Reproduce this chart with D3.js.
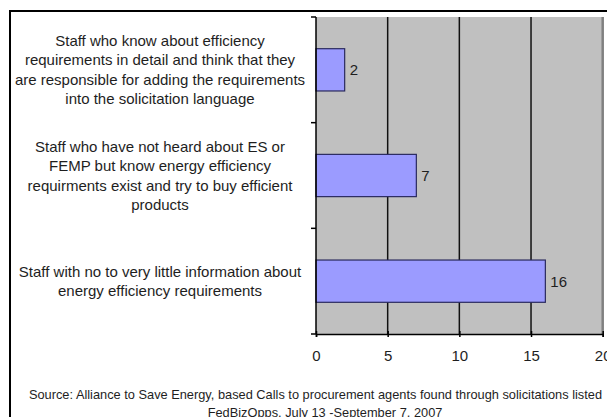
<html>
<head>
<meta charset="UTF-8">
<script src="https://d3js.org/d3.v7.min.js"></script>
<style>
  body { margin: 0; background: #fff; }
  text { font-family: "Liberation Sans", Arial, sans-serif; fill: #1e1e1e; }
</style>
</head>
<body>
<svg id="chart" width="607" height="417"></svg>
<script>
// category labels, one entry per bar (already split in lines as in the picture)
const categories = [
  ["Staff who know about efficiency", "requirements in detail and think that they", "are responsible for adding the requirements", "into the solicitation language"],
  ["Staff who have not heard about ES or", "FEMP but know energy efficiency", "requirments exist and try to buy efficient", "products"],
  ["Staff with no to very little information about", "energy efficiency requirements"]
];
const values = [2, 7, 16];
const xTicks = [0, 5, 10, 15, 20];
const sourceLines = [
  "Source: Alliance to Save Energy, based Calls to procurement agents found through solicitations listed",
  "FedBizOpps. July 13 -September 7, 2007"
];

const svg = d3.select("svg#chart");

// outer frame (right and bottom edges fall outside the picture)
svg.append("rect")
  .attr("x", 10).attr("y", 11)
  .attr("width", 700).attr("height", 500)
  .attr("fill", "none").attr("stroke", "#000").attr("stroke-width", 2);

const plotL = 316, plotR = 602.7, plotT = 17, plotB = 334;

const x = d3.scaleLinear().domain([0, 20]).range([plotL, plotR]);
const y = d3.scaleBand()
  .domain(d3.range(categories.length))
  .range([plotT, plotB])
  .paddingInner(0.6).paddingOuter(0.3);

// plot background
svg.append("rect")
  .attr("x", plotL).attr("y", plotT)
  .attr("width", plotR - plotL).attr("height", plotB - plotT)
  .attr("fill", "#c0c0c0");

// vertical gridlines
svg.append("g").selectAll("line")
  .data(xTicks.filter(d => d > 0))
  .join("line")
  .attr("x1", d => x(d)).attr("x2", d => x(d))
  .attr("y1", plotT).attr("y2", plotB)
  .attr("stroke", d => d === 20 ? "#808080" : "#111")
  .attr("stroke-width", d => d === 20 ? 2.5 : 1.5);

// bars
svg.append("g").selectAll("rect")
  .data(values)
  .join("rect")
  .attr("x", x(0))
  .attr("y", (d, i) => y(i))
  .attr("width", d => x(d) - x(0))
  .attr("height", y.bandwidth())
  .attr("fill", "#9b9bff")
  .attr("stroke", "#2a2a5e")
  .attr("stroke-width", 1.2);

// value labels
svg.append("g").selectAll("text")
  .data(values)
  .join("text")
  .attr("x", d => x(d) + 5)
  .attr("y", (d, i) => y(i) + y.bandwidth() / 2)
  .attr("dy", "0.36em")
  .style("font-size", "15px")
  .text(d => d);

// left axis line with ticks at band boundaries
const yAxis = svg.append("g");
yAxis.append("line")
  .attr("x1", plotL).attr("x2", plotL)
  .attr("y1", plotT).attr("y2", plotB)
  .attr("stroke", "#000").attr("stroke-width", 1.5);
yAxis.selectAll("line.tick")
  .data(d3.range(categories.length + 1))
  .join("line")
  .attr("class", "tick")
  .attr("x1", plotL - 5).attr("x2", plotL)
  .attr("y1", i => plotT + i * y.step()).attr("y2", i => plotT + i * y.step())
  .attr("stroke", "#000").attr("stroke-width", 1.5);

// bottom axis
const xAxis = svg.append("g")
  .attr("transform", `translate(0,${plotB})`)
  .call(d3.axisBottom(x).tickValues(xTicks).tickSize(3).tickPadding(13));
xAxis.select(".domain").attr("stroke", "#000").attr("stroke-width", 1.5);
xAxis.selectAll(".tick line").attr("y1", -3).attr("stroke-width", 1.5);
xAxis.selectAll(".tick text")
  .style("font-size", "15px")
  .style("font-family", "'Liberation Sans', Arial, sans-serif")
  .attr("fill", "#1e1e1e");

// category labels
const lineH = 19.5;
svg.append("g").selectAll("text")
  .data(categories)
  .join("text")
  .attr("text-anchor", "middle")
  .style("font-size", "15px")
  .each(function (lines, i) {
    const cy = y(i) + y.bandwidth() / 2;
    const y0 = cy - (lines.length - 1) * lineH / 2;
    d3.select(this).selectAll("tspan")
      .data(lines)
      .join("tspan")
      .attr("x", 160)
      .attr("y", (l, k) => y0 + k * lineH)
      .attr("dy", "0.35em")
      .text(l => l);
  });

// source note (second line is cut by the bottom edge, as in the original)
svg.append("g").selectAll("text")
  .data(sourceLines)
  .join("text")
  .attr("text-anchor", "middle")
  .attr("x", (d, i) => i === 0 ? 315.5 : 325)
  .attr("y", (d, i) => 395 + i * 17.5)
  .attr("dy", "0.35em")
  .style("font-size", "12.8px")
  .text(d => d);
</script>
</body>
</html>
